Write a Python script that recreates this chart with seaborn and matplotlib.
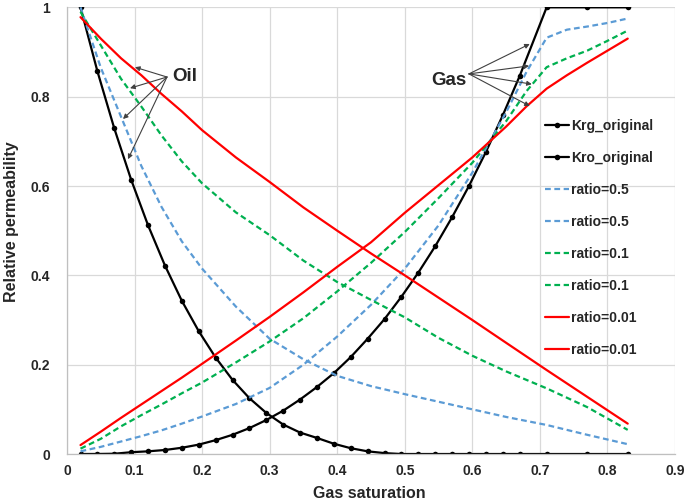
import numpy as np
import pandas as pd
import seaborn as sns
import matplotlib.pyplot as plt

# Saturation points of the original curves (marked points)
sat_orig = [0.02, 0.045, 0.07, 0.095, 0.12, 0.145, 0.17, 0.195, 0.22, 0.245,
            0.27, 0.295, 0.32, 0.345, 0.37, 0.395, 0.42, 0.445, 0.47, 0.495,
            0.52, 0.545, 0.57, 0.595, 0.62, 0.645, 0.67, 0.71, 0.77, 0.83]
krg_orig = [0, 0.0001, 0.0006, 0.004, 0.006, 0.009, 0.014, 0.021, 0.031, 0.043,
            0.058, 0.076, 0.097, 0.122, 0.150, 0.181, 0.217, 0.258, 0.302, 0.352,
            0.406, 0.465, 0.530, 0.600, 0.676, 0.758, 0.846, 1.0, 1.0, 1.0]
kro_orig = [1.0, 0.857, 0.729, 0.614, 0.512, 0.422, 0.343, 0.275, 0.216, 0.166,
            0.125, 0.092, 0.066, 0.048, 0.036, 0.023, 0.013, 0.006, 0.002, 0,
            0, 0, 0, 0, 0, 0, 0, 0, 0, 0]

# Gas curves for the different ratios
sat_gas = [0.02, 0.05, 0.08, 0.11, 0.14, 0.17, 0.20, 0.25, 0.30, 0.35, 0.40,
           0.45, 0.50, 0.55, 0.60, 0.65, 0.68, 0.71, 0.74, 0.77, 0.80, 0.83]
krg_05 = [0.006, 0.016, 0.028, 0.040, 0.053, 0.068, 0.084, 0.112, 0.148, 0.200, 0.263,
          0.334, 0.415, 0.512, 0.630, 0.765, 0.855, 0.932, 0.950, 0.957, 0.965, 0.975]
krg_01 = [0.012, 0.034, 0.062, 0.087, 0.111, 0.136, 0.160, 0.205, 0.252, 0.304, 0.364,
          0.428, 0.497, 0.573, 0.652, 0.745, 0.812, 0.866, 0.886, 0.903, 0.925, 0.948]
krg_001 = [0.020, 0.050, 0.081, 0.111, 0.141, 0.171, 0.202, 0.254, 0.307, 0.362, 0.419,
           0.474, 0.540, 0.602, 0.664, 0.733, 0.778, 0.818, 0.848, 0.876, 0.903, 0.930]

# Oil curves for the different ratios
sat_oil = [0.02, 0.05, 0.08, 0.11, 0.14, 0.17, 0.20, 0.25, 0.30, 0.35,
           0.40, 0.45, 0.50, 0.55, 0.60, 0.65, 0.71, 0.77, 0.83]
kro_05 = [1.0, 0.865, 0.755, 0.645, 0.553, 0.476, 0.415, 0.330, 0.258, 0.212,
          0.175, 0.152, 0.134, 0.117, 0.100, 0.083, 0.065, 0.043, 0.022]
kro_01 = [0.99, 0.915, 0.840, 0.778, 0.713, 0.655, 0.606, 0.541, 0.490, 0.433,
          0.385, 0.345, 0.306, 0.260, 0.220, 0.185, 0.147, 0.105, 0.054]
kro_001 = [0.978, 0.930, 0.886, 0.848, 0.806, 0.767, 0.725, 0.664, 0.609, 0.552,
           0.500, 0.449, 0.400, 0.350, 0.300, 0.249, 0.188, 0.128, 0.068]

x_ticks = [0, 0.1, 0.2, 0.3, 0.4, 0.5, 0.6, 0.7, 0.8, 0.9]
x_tick_labels = ['0', '0.1', '0.2', '0.3', '0.4', '0.5', '0.6', '0.7', '0.8', '0.9']
y_ticks = [0, 0.2, 0.4, 0.6, 0.8, 1.0]
y_tick_labels = ['0', '0.2', '0.4', '0.6', '0.8', '1']

sns.set_style('white')
plt.rcParams['font.family'] = ['Liberation Sans', 'DejaVu Sans']

fig = plt.figure(figsize=(6.85, 5.03), dpi=100)
ax = fig.add_axes([0.0978, 0.0974, 0.8876, 0.888])

blue = '#5b9bd5'
green = '#00b050'
red = '#ff0000'
dash = (0, (2.6, 1.6))

# Original curves with markers
sns.lineplot(x=sat_orig, y=krg_orig, ax=ax, color='black', lw=1.6, marker='o',
             markersize=4, markeredgewidth=0, sort=False, label='Krg_original')
sns.lineplot(x=sat_orig, y=kro_orig, ax=ax, color='black', lw=1.6, marker='o',
             markersize=4, markeredgewidth=0, sort=False, label='Kro_original')

# Ratio curves
sns.lineplot(x=sat_gas, y=krg_05, ax=ax, color=blue, lw=1.6, linestyle=dash, sort=False, label='ratio=0.5')
sns.lineplot(x=sat_oil, y=kro_05, ax=ax, color=blue, lw=1.6, linestyle=dash, sort=False, label='ratio=0.5')
sns.lineplot(x=sat_gas, y=krg_01, ax=ax, color=green, lw=1.6, linestyle=dash, sort=False, label='ratio=0.1')
sns.lineplot(x=sat_oil, y=kro_01, ax=ax, color=green, lw=1.6, linestyle=dash, sort=False, label='ratio=0.1')
sns.lineplot(x=sat_gas, y=krg_001, ax=ax, color=red, lw=1.6, sort=False, label='ratio=0.01')
sns.lineplot(x=sat_oil, y=kro_001, ax=ax, color=red, lw=1.6, sort=False, label='ratio=0.01')

# Axes, grid and ticks
ax.set_xlim(0, 0.9)
ax.set_ylim(0, 1)
ax.set_xticks(x_ticks)
ax.set_xticklabels(x_tick_labels, fontweight='bold', fontsize=10)
ax.set_yticks(y_ticks)
ax.set_yticklabels(y_tick_labels, fontweight='bold', fontsize=10)
ax.tick_params(axis='both', length=0)
ax.tick_params(axis='x', pad=7)
ax.tick_params(axis='y', pad=12)
ax.grid(True, color='#d9d9d9', lw=0.9)
ax.set_axisbelow(True)
for side in ['top', 'right']:
    ax.spines[side].set_visible(False)
for side in ['left', 'bottom']:
    ax.spines[side].set_color('#bfbfbf')
    ax.spines[side].set_linewidth(0.9)

ax.set_xlabel('Gas saturation', fontweight='bold', fontsize=11.5)
ax.set_ylabel('Relative permeability', fontweight='bold', fontsize=11.5)
ax.xaxis.set_label_coords(0.498, -0.072)
ax.yaxis.set_label_coords(-0.079, 0.52)

# Legend without frame, gridlines show through it
ax.legend(loc='center left', bbox_to_anchor=(0.786, 0.484), frameon=False,
          prop={'weight': 'bold', 'size': 10}, borderpad=0, borderaxespad=0,
          handlelength=1.75, handletextpad=0.15, labelspacing=1.3)

# Oil / Gas annotations with arrows
arrow = dict(arrowstyle='-|>', color='#404040', lw=0.8, mutation_scale=7, shrinkA=0, shrinkB=0)
ax.text(0.174, 0.845, 'Oil', fontsize=13.5, fontweight='bold', ha='center', va='center')
for tip in [(0.1006, 0.866), (0.0933, 0.819), (0.0829, 0.750), (0.0903, 0.660)]:
    ax.annotate('', xy=tip, xytext=(0.148, 0.844), arrowprops=arrow)
ax.text(0.565, 0.837, 'Gas', fontsize=13.5, fontweight='bold', ha='center', va='center')
for tip in [(0.685, 0.918), (0.684, 0.869), (0.688, 0.828), (0.685, 0.779)]:
    ax.annotate('', xy=tip, xytext=(0.595, 0.851), arrowprops=arrow)

plt.savefig('out.png', dpi=100)
